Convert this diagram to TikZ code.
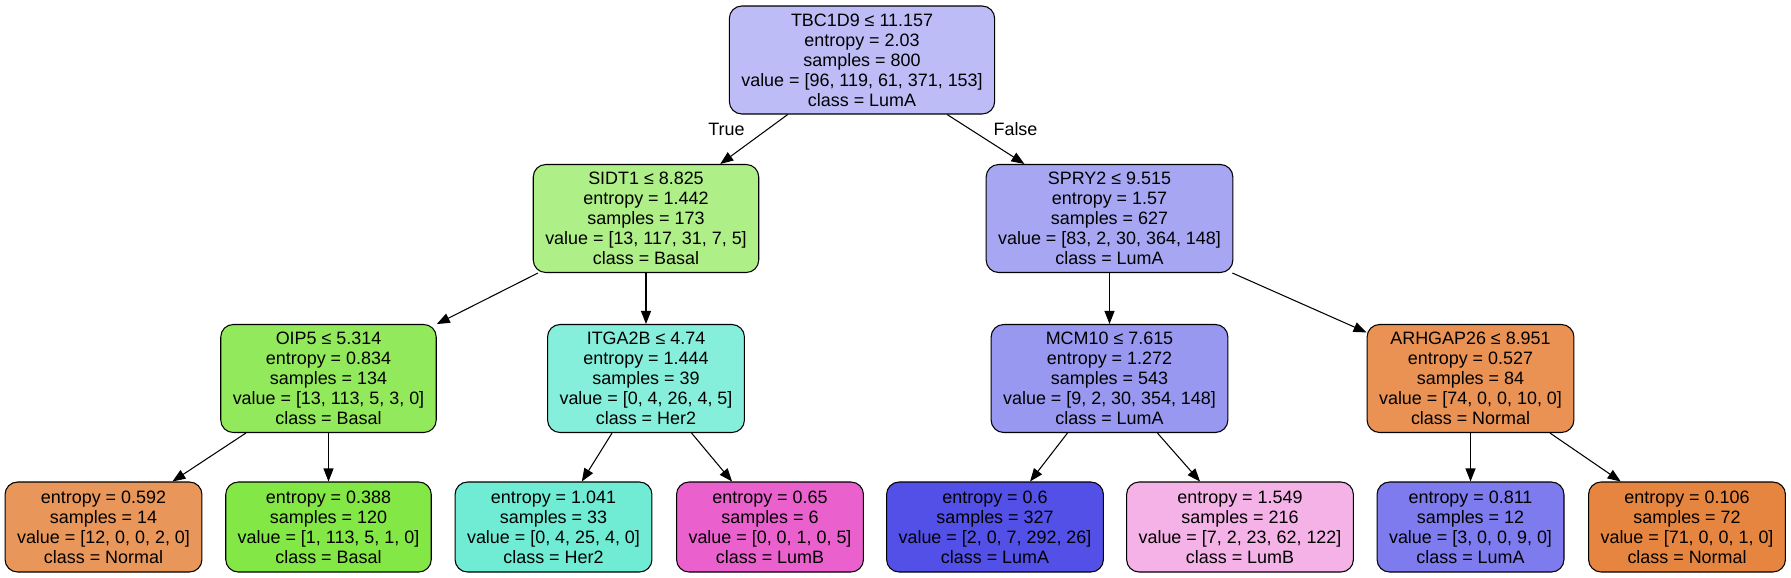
\documentclass[tikz,border=0pt]{standalone}
\usepackage{fontspec}
\setmainfont{Liberation Sans}
\usepackage{tikz}
\usetikzlibrary{arrows.meta}

\definecolor{cRoot}{RGB}{189,188,246}
\definecolor{cSidt}{RGB}{175,239,135}
\definecolor{cSpry}{RGB}{167,166,243}
\definecolor{cOip}{RGB}{146,233,91}
\definecolor{cItga}{RGB}{133,239,219}
\definecolor{cMcm}{RGB}{153,152,241}
\definecolor{cArh}{RGB}{233,146,84}
\definecolor{cLfA}{RGB}{233,150,90}
\definecolor{cLfB}{RGB}{131,231,69}
\definecolor{cLfC}{RGB}{112,236,213}
\definecolor{cLfD}{RGB}{234,97,205}
\definecolor{cLfE}{RGB}{83,80,232}
\definecolor{cLfF}{RGB}{245,178,231}
\definecolor{cLfG}{RGB}{125,123,238}
\definecolor{cLfH}{RGB}{230,133,63}

\begin{document}
\begin{tikzpicture}[
          split/.style={rectangle, rounded corners=0.25cm, draw=black,
                        line width=0.6pt, inner xsep=0.24cm,
                        minimum height=2.16cm, align=center,
                        font=\fontsize{10.2pt}{11.4pt}\selectfont},
          leaf/.style={split, minimum height=1.80cm},
          edge/.style={draw=black, line width=0.6pt,
                       -{Triangle[length=0.26cm, width=0.2cm]}},
          lbl/.style={font=\fontsize{10.2pt}{11.4pt}\selectfont}
        ]
          \useasboundingbox (0,0) rectangle (35.82,-11.54);
          % level 0 and 1
          \node[split, fill=cRoot] (root) at (17.24,-1.20)
            {TBC1D9 ≤ 11.157\\entropy = 2.03\\samples = 800\\value = [96, 119, 61, 371, 153]\\class = LumA};
          \node[split, fill=cSidt] (sidt) at (12.92,-4.37)
            {SIDT1 ≤ 8.825\\entropy = 1.442\\samples = 173\\value = [13, 117, 31, 7, 5]\\class = Basal};
          \node[split, fill=cSpry] (spry) at (22.19,-4.37)
            {SPRY2 ≤ 9.515\\entropy = 1.57\\samples = 627\\value = [83, 2, 30, 364, 148]\\class = LumA};
          % level 2
          \node[split, fill=cOip]  (oip)  at (6.57,-7.57)
            {OIP5 ≤ 5.314\\entropy = 0.834\\samples = 134\\value = [13, 113, 5, 3, 0]\\class = Basal};
          \node[split, fill=cItga] (itga) at (12.92,-7.57)
            {ITGA2B ≤ 4.74\\entropy = 1.444\\samples = 39\\value = [0, 4, 26, 4, 5]\\class = Her2};
          \node[split, fill=cMcm]  (mcm)  at (22.19,-7.57)
            {MCM10 ≤ 7.615\\entropy = 1.272\\samples = 543\\value = [9, 2, 30, 354, 148]\\class = LumA};
          \node[split, fill=cArh]  (arh)  at (29.41,-7.57)
            {ARHGAP26 ≤ 8.951\\entropy = 0.527\\samples = 84\\value = [74, 0, 0, 10, 0]\\class = Normal};
          % leaves
          \node[leaf, fill=cLfA] (lfa) at (2.07,-10.54)
            {entropy = 0.592\\samples = 14\\value = [12, 0, 0, 2, 0]\\class = Normal};
          \node[leaf, fill=cLfB] (lfb) at (6.57,-10.54)
            {entropy = 0.388\\samples = 120\\value = [1, 113, 5, 1, 0]\\class = Basal};
          \node[leaf, fill=cLfC] (lfc) at (11.07,-10.54)
            {entropy = 1.041\\samples = 33\\value = [0, 4, 25, 4, 0]\\class = Her2};
          \node[leaf, fill=cLfD] (lfd) at (15.40,-10.54)
            {entropy = 0.65\\samples = 6\\value = [0, 0, 1, 0, 5]\\class = LumB};
          \node[leaf, fill=cLfE] (lfe) at (19.90,-10.54)
            {entropy = 0.6\\samples = 327\\value = [2, 0, 7, 292, 26]\\class = LumA};
          \node[leaf, fill=cLfF] (lff) at (24.80,-10.54)
            {entropy = 1.549\\samples = 216\\value = [7, 2, 23, 62, 122]\\class = LumB};
          \node[leaf, fill=cLfG] (lfg) at (29.41,-10.54)
            {entropy = 0.811\\samples = 12\\value = [3, 0, 0, 9, 0]\\class = LumA};
          \node[leaf, fill=cLfH] (lfh) at (33.74,-10.54)
            {entropy = 0.106\\samples = 72\\value = [71, 0, 0, 1, 0]\\class = Normal};
          % branch labels
          \node[lbl] (true)  at (14.53,-2.58) {True};
          \node[lbl] (false) at (20.31,-2.58) {False};
          % edges
          \draw[edge] (root)--(sidt);
          \draw[edge] (root)--(spry);
          \draw[edge] (sidt)--(oip);
          \draw[edge] (sidt)--(itga);
          \draw[edge] (spry)--(mcm);
          \draw[edge] (spry)--(arh);
          \draw[edge] (oip)--(lfa);
          \draw[edge] (oip)--(lfb);
          \draw[edge] (itga)--(lfc);
          \draw[edge] (itga)--(lfd);
          \draw[edge] (mcm)--(lfe);
          \draw[edge] (mcm)--(lff);
          \draw[edge] (arh)--(lfg);
          \draw[edge] (arh)--(lfh);
        \end{tikzpicture}
\end{document}
